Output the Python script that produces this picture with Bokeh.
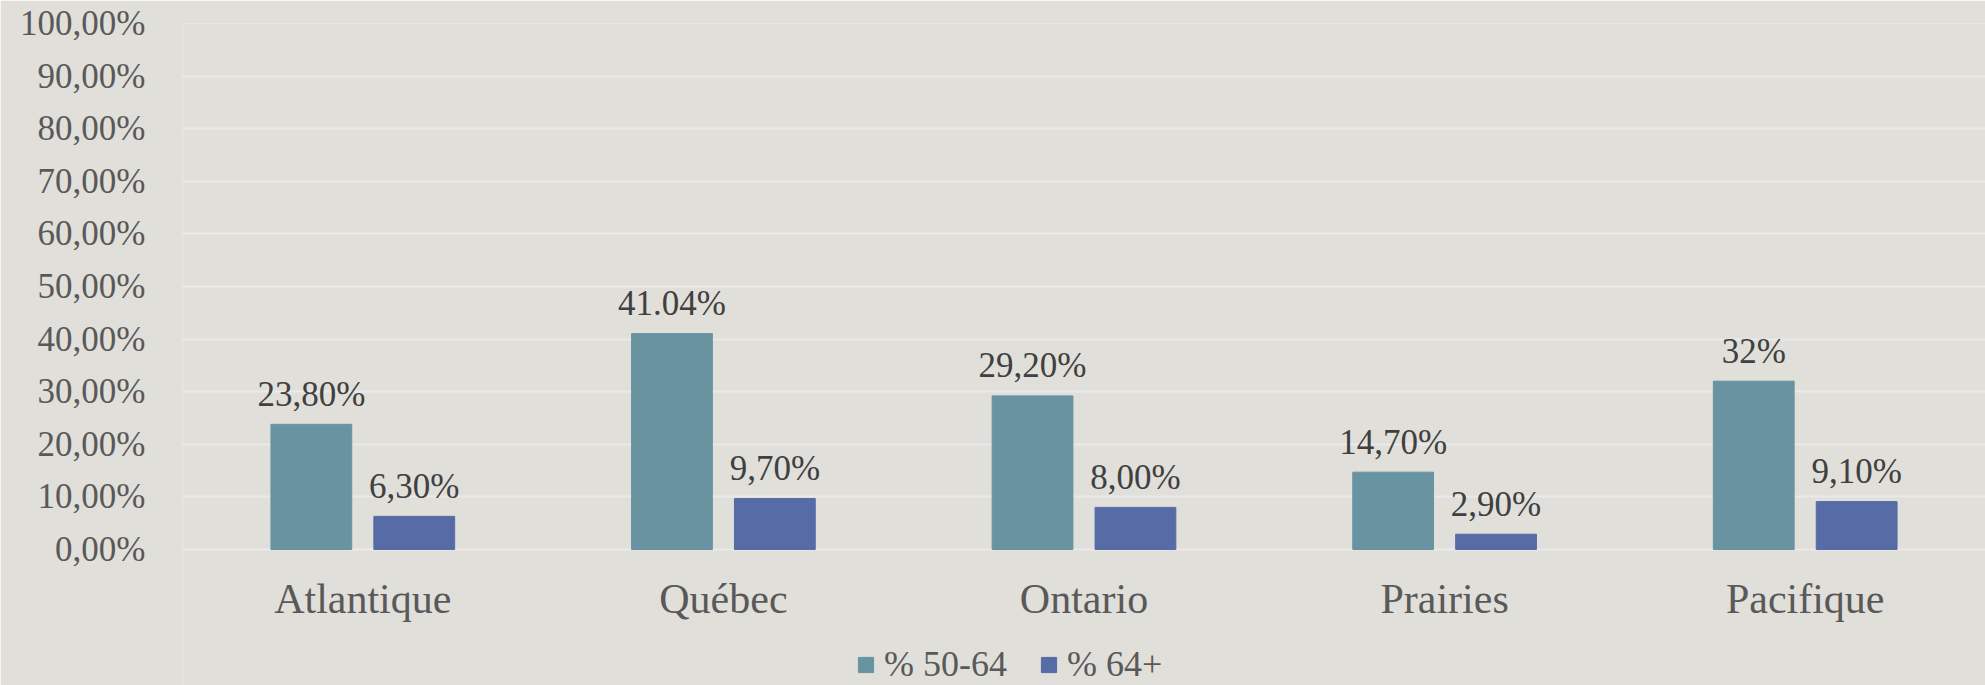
from bokeh.plotting import figure
from bokeh.models import (FactorRange, Range1d, ColumnDataSource, FixedTicker,
                          Legend, LegendItem)
from bokeh.transform import dodge
from bokeh.core.properties import value
from bokeh.embed import file_html
from bokeh.resources import INLINE

regions = ["Atlantique", "Québec", "Ontario", "Prairies", "Pacifique"]
pct_50_64 = [23.80, 41.04, 29.20, 14.70, 32.0]
pct_64p = [6.30, 9.70, 8.00, 2.90, 9.10]
labels_50_64 = ["23,80%", "41.04%", "29,20%", "14,70%", "32%"]
labels_64p = ["6,30%", "9,70%", "8,00%", "2,90%", "9,10%"]
series_names = ["% 50-64", "% 64+"]
y_ticks = [0, 10, 20, 30, 40, 50, 60, 70, 80, 90, 100]
y_tick_labels = ["0,00%", "10,00%", "20,00%", "30,00%", "40,00%", "50,00%",
                 "60,00%", "70,00%", "80,00%", "90,00%", "100,00%"]

FONT = "Liberation Serif"
BG = "#E1DFDA"
C1 = "#6893A0"
C2 = "#576BA6"

src = ColumnDataSource(dict(region=regions, v1=pct_50_64, v2=pct_64p,
                            l1=labels_50_64, l2=labels_64p))

p = figure(x_range=FactorRange(*regions), y_range=Range1d(-25.86, 100),
           width=1985, height=685, output_backend="svg", toolbar_location=None,
           min_border_left=182, min_border_right=0, min_border_top=23,
           min_border_bottom=0)
p.background_fill_color = BG
p.border_fill_color = BG
p.outline_line_color = None

OFF = 0.1427
BW = 0.224
r1 = p.vbar(x=dodge("region", -OFF, range=p.x_range), top="v1", width=BW,
            bottom=0, source=src, fill_color=C1, line_color=C1)
r2 = p.vbar(x=dodge("region", OFF, range=p.x_range), top="v2", width=BW,
            bottom=0, source=src, fill_color=C2, line_color=C2)

p.text(x=dodge("region", -OFF, range=p.x_range), y="v1", text="l1", source=src,
       text_align="center", text_baseline="alphabetic", y_offset=-30,
       text_font=value(FONT), text_font_size="35px", text_color="#404040")
p.text(x=dodge("region", OFF, range=p.x_range), y="v2", text="l2", source=src,
       text_align="center", text_baseline="alphabetic", y_offset=-30,
       text_font=value(FONT), text_font_size="35px", text_color="#404040")

# grid
p.xgrid.grid_line_color = None
p.ygrid.ticker = FixedTicker(ticks=y_ticks)
p.ygrid.grid_line_color = "#EAEAEC"
p.ygrid.grid_line_width = 2

# y axis
p.yaxis.ticker = FixedTicker(ticks=y_ticks)
p.yaxis.major_label_overrides = {t: l for t, l in zip(y_ticks, y_tick_labels)}
p.yaxis.axis_line_color = None
p.yaxis.major_tick_line_color = None
p.yaxis.minor_tick_line_color = None
p.yaxis.major_tick_out = 0
p.yaxis.major_tick_in = 0
p.yaxis.major_label_standoff = 37
p.yaxis.major_label_text_font = FONT
p.yaxis.major_label_text_font_size = "35px"
p.yaxis.major_label_text_color = "#595959"

# x axis, pinned at y = 0 inside the frame
p.xaxis.fixed_location = 0
p.xaxis.axis_line_color = None
p.xaxis.major_tick_line_color = None
p.xaxis.minor_tick_line_color = None
p.xaxis.major_tick_out = 0
p.xaxis.major_tick_in = 0
p.xaxis.major_label_standoff = 27
p.xaxis.major_label_text_font = FONT
p.xaxis.major_label_text_font_size = "42px"
p.xaxis.major_label_text_color = "#595959"

legend = Legend(items=[LegendItem(label=series_names[0], renderers=[r1]),
                       LegendItem(label=series_names[1], renderers=[r2])],
                orientation="horizontal", location=(674, 0))
legend.background_fill_alpha = 0
legend.border_line_alpha = 0
legend.label_text_font = FONT
legend.label_text_font_size = "36px"
legend.label_text_color = "#595959"
legend.glyph_width = 19
legend.glyph_height = 19
legend.label_standoff = 9
legend.spacing = 32
legend.padding = 0
legend.margin = 0
p.add_layout(legend, "center")

open("out.html", "w").write(file_html(p, INLINE))
